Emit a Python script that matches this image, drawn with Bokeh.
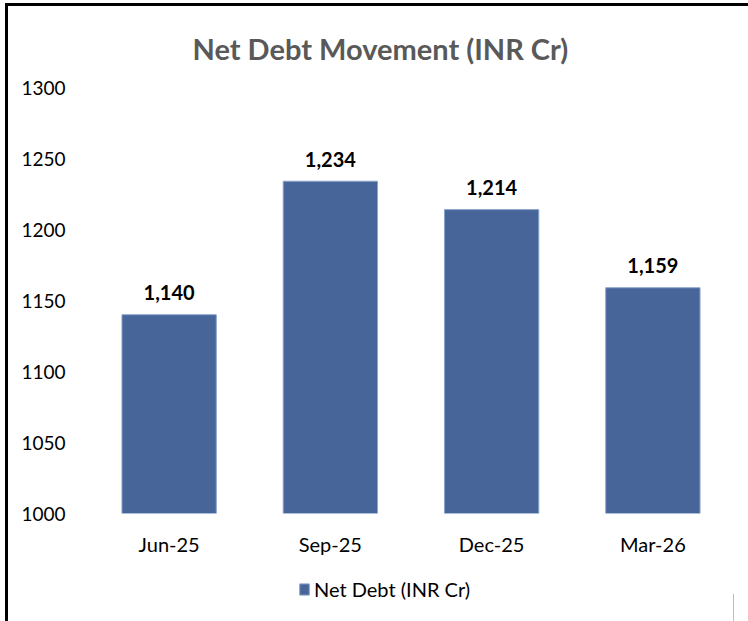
from bokeh.plotting import figure
from bokeh.layouts import column
from bokeh.models import ColumnDataSource, Legend, LegendItem, Range1d
from bokeh.core.properties import value
from bokeh.embed import file_html
from bokeh.resources import INLINE

categories = ["Jun-25", "Sep-25", "Dec-25", "Mar-26"]
net_debt = [1140, 1234, 1214, 1159]
y_ticks = [1000, 1050, 1100, 1150, 1200, 1250, 1300]
title_text = "Net Debt Movement (INR Cr)"
series_name = "Net Debt (INR Cr)"

FONT = "Lato"
BAR = "#48659A"
EDGE = "#8CA5CC"

src = ColumnDataSource(dict(cat=categories, val=net_debt,
                            lbl=[f"{v:,}" for v in net_debt]))

p = figure(x_range=categories, y_range=(1000, 1300), frame_width=645, frame_height=426,
           output_backend="svg", toolbar_location=None,
           min_border_left=80, min_border_right=15, min_border_top=81, min_border_bottom=53)
p.x_range.range_padding = 0
p.outline_line_color = None
p.grid.visible = False
p.background_fill_color = "white"
p.border_fill_color = "white"

p.vbar(x="cat", top="val", bottom=1000, width=0.585, source=src,
       fill_color=BAR, line_color=EDGE, line_width=1)

p.text(x="cat", y="val", text="lbl", source=src, text_align="center",
       text_baseline="middle", y_offset=-22, text_font=value(FONT),
       text_font_style="bold", text_font_size="20px", text_color="black")

p.yaxis.ticker = y_ticks
p.yaxis.axis_line_color = None
p.yaxis.major_tick_line_color = None
p.yaxis.minor_tick_line_color = None
p.yaxis.major_label_standoff = 17
p.yaxis.major_label_text_font = FONT
p.yaxis.major_label_text_font_size = "19px"
p.yaxis.major_label_text_color = "black"

p.xaxis.axis_line_color = None
p.xaxis.major_tick_line_color = None
p.xaxis.major_label_standoff = 12
p.xaxis.major_label_text_font = FONT
p.xaxis.major_label_text_font_size = "20px"
p.xaxis.major_label_text_color = "black"

p.title.text = title_text
p.title.align = "left"
p.title.offset = 104
p.title.standoff = 44
p.title.text_font = FONT
p.title.text_font_style = "bold"
p.title.text_font_size = "29px"
p.title.text_color = "#595959"

# legend strip below the chart (its frame is aligned with the chart's frame)
q = figure(x_range=Range1d(0, 1), y_range=Range1d(0, 1), width=740, height=55,
           output_backend="svg", toolbar_location=None,
           x_axis_location=None, y_axis_location=None,
           min_border_left=0, min_border_right=0, min_border_top=0, min_border_bottom=0)
q.outline_line_color = None
q.grid.visible = False
q.background_fill_color = "white"
q.border_fill_color = "white"
swatch_src = ColumnDataSource(dict(x=[5.0], top=[0.5]))
swatch = q.vbar(x="x", top="top", width=0.5, source=swatch_src,
                fill_color=BAR, line_color=EDGE)

leg = Legend(items=[LegendItem(label=series_name, renderers=[swatch])],
             location=(210, 20), glyph_width=12, glyph_height=14,
             label_standoff=4, padding=0, margin=0, spacing=0,
             border_line_color=None, background_fill_alpha=0,
             label_text_font=FONT, label_text_font_size="20px",
             label_text_color="black")
q.add_layout(leg, "center")

layout = column(p, q, spacing=0)
layout.styles = {"margin-left": "5px", "margin-top": "3px",
                 "border-left": "3px solid black", "border-top": "3px solid black"}

open("out.html", "w").write(file_html(layout, INLINE))
